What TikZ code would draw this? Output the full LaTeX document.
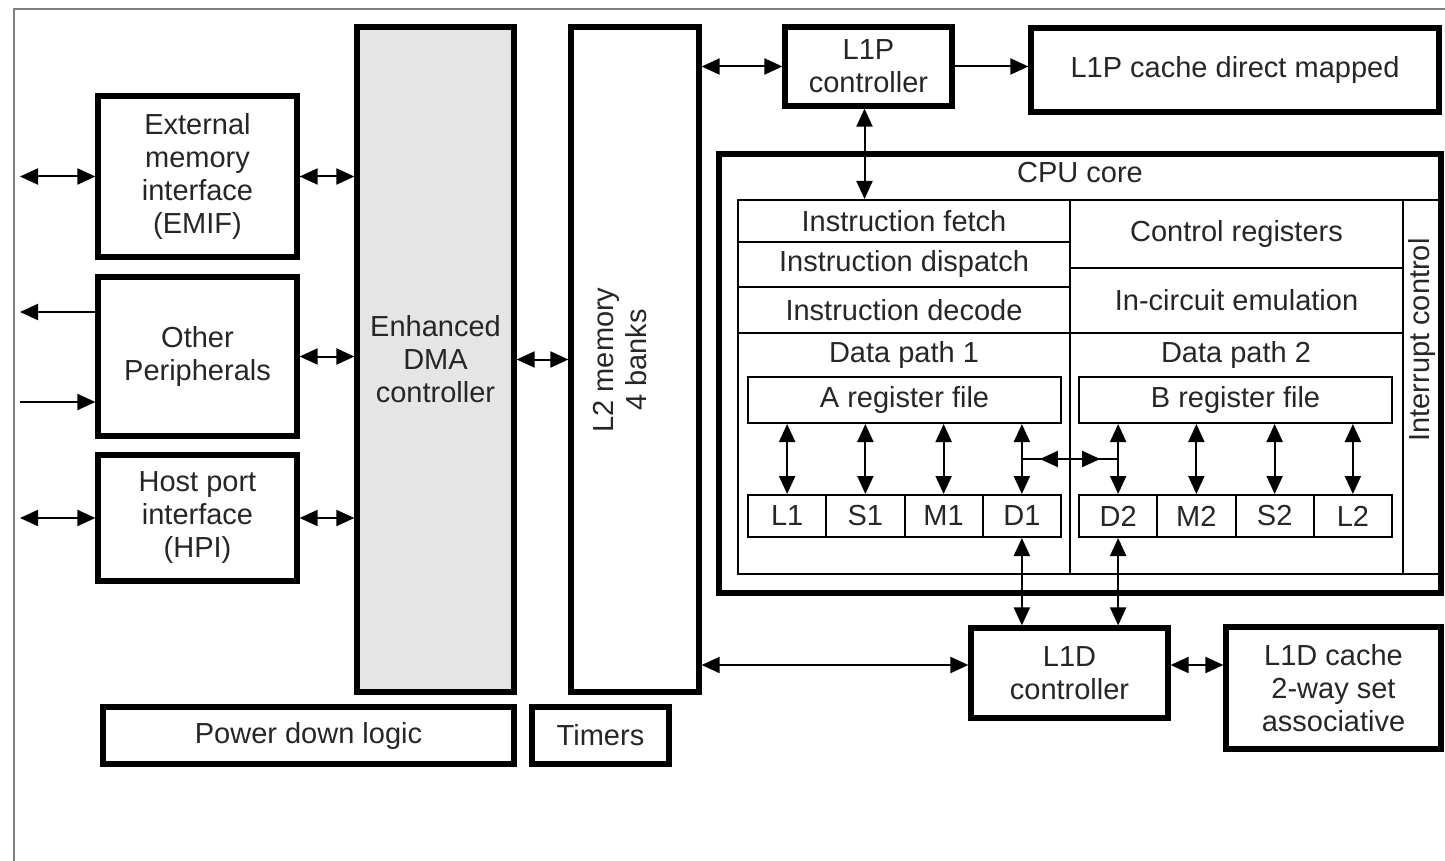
\documentclass[tikz,border=0pt]{standalone}
\usepackage{fontspec}
\setmainfont{Liberation Sans}
\usetikzlibrary{calc,arrows.meta}

\begin{document}
\begin{tikzpicture}[x=0.5pt,y=-0.5pt,
    every node/.style={font=\fontsize{14.5}{16.5}\selectfont, align=center, text=black!85},
    rect/.style args={#1/#2/#3/#4}{at={({((#1)+(#3))/2},{((#2)+(#4))/2})},
        minimum width={((#3)-(#1))*0.5pt}, minimum height={((#4)-(#2))*0.5pt}},
    blk/.style={draw, line width=2.6pt, inner sep=0pt},
    cell/.style={draw, line width=1pt, inner sep=0pt},
    dbl/.style={line width=1pt, {Triangle[length=9pt,width=8pt]}-{Triangle[length=9pt,width=8pt]}},
    sgl/.style={line width=1pt, -{Triangle[length=9pt,width=8pt]}}]
    \useasboundingbox (0,0) rectangle (1445,861);
    \draw[black!50, line width=1pt] (14,861) -- (14,9) -- (1445,9);

    \node[blk, rect=98/96/297/257] (emif) {External\\memory\\interface\\(EMIF)};
    \node[blk, rect=98/277/297/436] (periph) {Other\\Peripherals};
    \node[blk, rect=98/455/297/581] (hpi) {Host port\\interface\\(HPI)};
    \node[blk, fill=black!10, rect=357/27/514/692] (edma) {Enhanced\\DMA\\controller};
    \node[blk, rect=571/27/699/692] (mem2) {};
    \node[rotate=90] (mem2t) at (620,360) {L2 memory\\4 banks};
    \node[blk, rect=103/707/514/764] (pdl) {Power down logic};
    \node[blk, rect=532/707/669/764] (tmr) {Timers};
    \node[blk, rect=785/27/952/106] (l1pc) {L1P\\controller};
    \node[blk, rect=1031/28/1439/112] (l1pcache) {L1P cache direct mapped};
    \node[blk, rect=719/154/1441/593] (cpu) {};
    \node (cput) at (1080,173) {CPU core};

    \node[cell, rect=738/200/1070/242] (ifetch) {Instruction fetch};
    \node[cell, rect=738/242/1070/287] (idisp) {Instruction dispatch};
    \node[cell, rect=738/287/1070/333] (idec) {Instruction decode};
    \node[cell, rect=738/333/1070/574] (dp1) {};
    \node[cell, rect=1070/200/1403/268] (ctrl) {Control registers};
    \node[cell, rect=1070/268/1403/333] (ice) {In-circuit emulation};
    \node[cell, rect=1070/333/1403/574] (dp2) {};
    \node[cell, rect=1403/200/1441/574] (intc) {};
    \node[rotate=90] (intct) at (1422,340) {Interrupt control};
    \node (dp1t) at (904,355) {Data path 1};
    \node (dp2t) at (1236,355) {Data path 2};
    \node[cell, rect=748/377/1061/423] (rega) {A register file};
    \node[cell, rect=1079/377/1392/423] (regb) {B register file};
    \foreach \n [count=\i from 0] in {L1,S1,M1,D1}
        \node[cell, rect={748+78.25*\i}/495/{826.25+78.25*\i}/537] (u\n) {\n};
    \foreach \n [count=\i from 0] in {D2,M2,S2,L2}
        \node[cell, rect={1079+78.25*\i}/495/{1157.25+78.25*\i}/537] (u\n) {\n};

    \node[blk, rect=971/628/1168/718] (l1dc) {L1D\\controller};
    \node[blk, rect=1226/627/1441/749] (l1dcache) {L1D cache\\2-way set\\associative};

    \coordinate (lft) at (20,0);
    \coordinate (pout) at (20,312);
    \coordinate (pin) at (20,402);
    \coordinate (dbus) at (0,665);
    \draw[dbl] (emif.west -| lft) -- (emif.west);
    \draw[dbl] (emif.east) -- (emif.east -| edma.west);
    \draw[sgl] (periph.west |- pout) -- (pout);
    \draw[sgl] (pin) -- (periph.west |- pin);
    \draw[dbl] (periph.east) -- (periph.east -| edma.west);
    \draw[dbl] (hpi.west -| lft) -- (hpi.west);
    \draw[dbl] (hpi.east) -- (hpi.east -| edma.west);
    \draw[dbl] (edma.east) -- (edma.east -| mem2.west);
    \draw[dbl] (mem2.east |- l1pc.west) -- (l1pc.west);
    \draw[sgl] (l1pc.east) -- (l1pc.east -| l1pcache.west);
    \draw[dbl] ([xshift=-2]l1pc.south) -- ([xshift=-2]l1pc.south |- ifetch.north);
    \foreach \u in {uL1,uS1,uM1,uD1}
        \draw[dbl] (\u.north |- rega.south) -- (\u.north);
    \foreach \u in {uD2,uM2,uS2,uL2}
        \draw[dbl] (\u.north |- regb.south) -- (\u.north);
    \coordinate (xp) at ($(uD1.north)!0.5!(uD1.north |- rega.south)$);
    \draw[line width=1pt] (xp) -- (xp -| uD2.north);
    \draw[dbl, shorten <=9pt, shorten >=9pt] (xp) -- (xp -| uD2.north);
    \draw[dbl] (uD1.south) -- (uD1.south |- l1dc.north);
    \draw[dbl] (uD2.south) -- (uD2.south |- l1dc.north);
    \draw[dbl] (mem2.east |- dbus) -- (l1dc.west |- dbus);
    \draw[dbl] (l1dc.east |- dbus) -- (l1dcache.west |- dbus);
\end{tikzpicture}
\end{document}
